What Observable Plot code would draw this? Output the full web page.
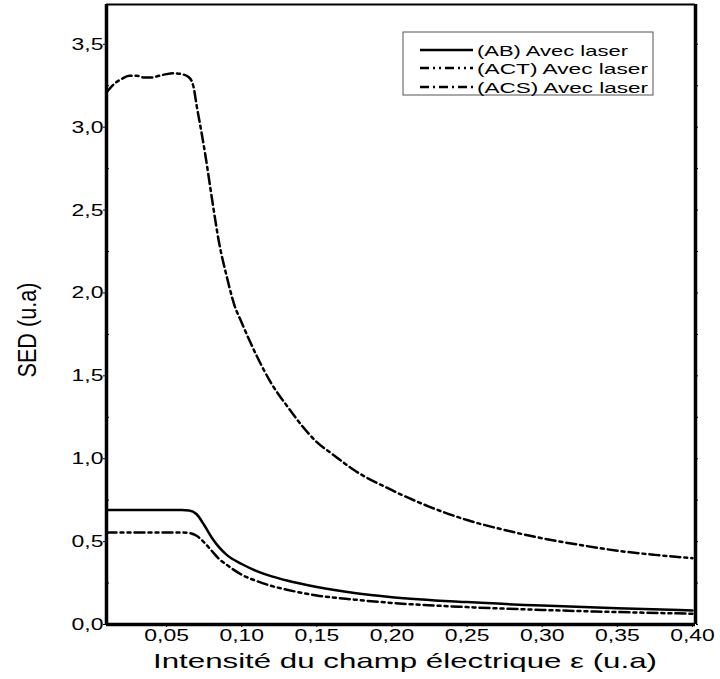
<!DOCTYPE html>
<html>
<head>
<meta charset="utf-8">
<script src="https://cdn.jsdelivr.net/npm/d3@7"></script>
<script src="https://cdn.jsdelivr.net/npm/@observablehq/plot@0.6"></script>
<style>
  html, body { margin: 0; padding: 0; background: white; }
</style>
</head>
<body>
<script>
// ---- Data ----
const xAB = [0.01, 0.02, 0.03, 0.04, 0.05, 0.06, 0.065, 0.07, 0.075, 0.08, 0.085, 0.09, 0.10, 0.11, 0.12, 0.13, 0.15, 0.175, 0.20, 0.25, 0.30, 0.35, 0.40];
const sedAB = [0.69, 0.69, 0.69, 0.69, 0.69, 0.69, 0.688, 0.665, 0.60, 0.525, 0.465, 0.42, 0.365, 0.322, 0.29, 0.265, 0.226, 0.19, 0.165, 0.135, 0.114, 0.098, 0.085];
const xACT = [0.01, 0.02, 0.03, 0.04, 0.05, 0.06, 0.065, 0.07, 0.075, 0.08, 0.085, 0.09, 0.10, 0.11, 0.12, 0.13, 0.15, 0.175, 0.20, 0.25, 0.30, 0.35, 0.40];
const sedACT = [0.555, 0.555, 0.555, 0.555, 0.555, 0.555, 0.552, 0.535, 0.495, 0.445, 0.395, 0.36, 0.30, 0.262, 0.232, 0.21, 0.175, 0.15, 0.13, 0.105, 0.088, 0.075, 0.065];
const xACS = [0.01, 0.015, 0.02, 0.025, 0.03, 0.035, 0.04, 0.045, 0.05, 0.055, 0.06, 0.065, 0.068, 0.07, 0.073, 0.076, 0.08, 0.085, 0.09, 0.095, 0.10, 0.11, 0.12, 0.13, 0.14, 0.15, 0.16, 0.175, 0.20, 0.225, 0.25, 0.275, 0.30, 0.325, 0.35, 0.375, 0.40];
const sedACS = [3.21, 3.26, 3.29, 3.31, 3.31, 3.30, 3.30, 3.31, 3.32, 3.325, 3.32, 3.30, 3.24, 3.13, 2.98, 2.82, 2.58, 2.30, 2.10, 1.93, 1.82, 1.62, 1.45, 1.32, 1.20, 1.10, 1.03, 0.93, 0.81, 0.71, 0.63, 0.57, 0.52, 0.48, 0.445, 0.42, 0.40];

const seriesNames = ["(AB) Avec laser", "(ACT) Avec laser", "(ACS) Avec laser"];
const seriesDash = [null, "10,4,3,4,3,4", "10,4,3,4"];
const legendDash = [null, "9,4,2,4,2,4", "9,4,2,4"];

const xTicks = [0.05, 0.10, 0.15, 0.20, 0.25, 0.30, 0.35, 0.40];
const xMinor = [0.025, 0.075, 0.125, 0.175, 0.225, 0.275, 0.325, 0.375];
const yTicks = [0, 0.5, 1.0, 1.5, 2.0, 2.5, 3.0, 3.5];
const yMinor = [0.25, 0.75, 1.25, 1.75, 2.25, 2.75, 3.25];

const xLabel = "Intensité du champ électrique ε (u.a)";
const yLabel = "SED (u.a)";

// ---- Build tables ----
const toRows = (xs, ys) => xs.map((x, i) => ({x, y: ys[i]}));
const rowsAB = toRows(xAB, sedAB);
const rowsACT = toRows(xACT, sedACT);
const rowsACS = toRows(xACS, sedACS);

const fmtX = d => d3.format(".2f")(d).replace(".", ",");
const fmtY = d => d3.format(".1f")(d).replace(".", ",");

const xDom = [0.01, 0.402];
const yDom = [0, 3.74];

const chart = Plot.plot({
  width: 720,
  height: 679,
  marginLeft: 106,
  marginRight: 25,
  marginTop: 4,
  marginBottom: 55,
  x: {domain: xDom},
  y: {domain: yDom},
  style: {fontFamily: "'Liberation Sans', Arial, sans-serif", fontSize: "17px", color: "black", background: "white", overflow: "visible"},
  marks: [
    Plot.axisX({ticks: xTicks, tickFormat: fmtX, tickSize: 3, tickPadding: 1, label: null, fontSize: 17}),
    Plot.axisX({ticks: xMinor, tickFormat: () => "", tickSize: 2, label: null}),
    Plot.axisY({ticks: yTicks, tickFormat: fmtY, tickSize: 3, tickPadding: 0, label: null, fontSize: 17}),
    Plot.axisY({ticks: yMinor, tickFormat: () => "", tickSize: -3, label: null}),
    Plot.axisY({anchor: "right", ticks: yTicks.concat(yMinor), tickFormat: () => "", tickSize: 2, label: null}),
    Plot.line(rowsAB, {x: "x", y: "y", stroke: "black", strokeWidth: 2.5, curve: "monotone-x"}),
    Plot.line(rowsACT, {x: "x", y: "y", stroke: "black", strokeWidth: 2.5, strokeDasharray: seriesDash[1], curve: "monotone-x"}),
    Plot.line(rowsACS, {x: "x", y: "y", stroke: "black", strokeWidth: 2.5, strokeDasharray: seriesDash[2], curve: "monotone-x"}),
    Plot.ruleY([yDom[1]], {stroke: "black", strokeWidth: 2}),
    Plot.ruleY([yDom[0]], {stroke: "black", strokeWidth: 3.5}),
    Plot.ruleX([xDom[0]], {stroke: "black", strokeWidth: 3.5}),
    Plot.ruleX([xDom[1]], {stroke: "black", strokeWidth: 3.5})
  ]
});

document.body.append(chart);
const svg = d3.select(chart.tagName.toLowerCase() === "svg" ? chart : chart.querySelector("svg"));

// Stretch tick labels horizontally (the reference is horizontally stretched)
const STRETCH = 1.35;
svg.selectAll("text").each(function() {
  const len = this.getComputedTextLength();
  if (len > 0) {
    this.setAttribute("textLength", len * STRETCH);
    this.setAttribute("lengthAdjust", "spacingAndGlyphs");
  }
});

// Axis titles
svg.append("text")
  .attr("x", 405).attr("y", 668)
  .attr("text-anchor", "middle")
  .attr("font-size", 21)
  .attr("font-family", "'Liberation Sans', Arial, sans-serif")
  .attr("fill", "black")
  .attr("textLength", 504).attr("lengthAdjust", "spacingAndGlyphs")
  .text(xLabel);

svg.append("text")
  .attr("transform", "translate(36,330) rotate(-90)")
  .attr("text-anchor", "middle")
  .attr("font-size", 25)
  .attr("font-family", "'Liberation Sans Narrow', 'Liberation Sans', Arial, sans-serif")
  .attr("fill", "black")
  .attr("textLength", 95).attr("lengthAdjust", "spacingAndGlyphs")
  .text(yLabel);

// Legend
const lg = svg.append("g");
lg.append("rect").attr("x", 403).attr("y", 32).attr("width", 250).attr("height", 63)
  .attr("fill", "white").attr("stroke", "#555").attr("stroke-width", 1);
const rowY = [50, 68, 87];
const textW = [151, 171, 171];
seriesNames.forEach((name, i) => {
  const l = lg.append("line").attr("x1", 420).attr("x2", 473).attr("y1", rowY[i]).attr("y2", rowY[i])
    .attr("stroke", "black").attr("stroke-width", 2.5);
  if (legendDash[i]) l.attr("stroke-dasharray", legendDash[i]);
  lg.append("text").attr("x", 477).attr("y", rowY[i] + 5.5)
    .attr("text-anchor", "start")
    .attr("font-size", 15).attr("font-family", "'Liberation Sans', Arial, sans-serif")
    .attr("fill", "black")
    .attr("textLength", textW[i]).attr("lengthAdjust", "spacingAndGlyphs")
    .text(name);
});
</script>
</body>
</html>
